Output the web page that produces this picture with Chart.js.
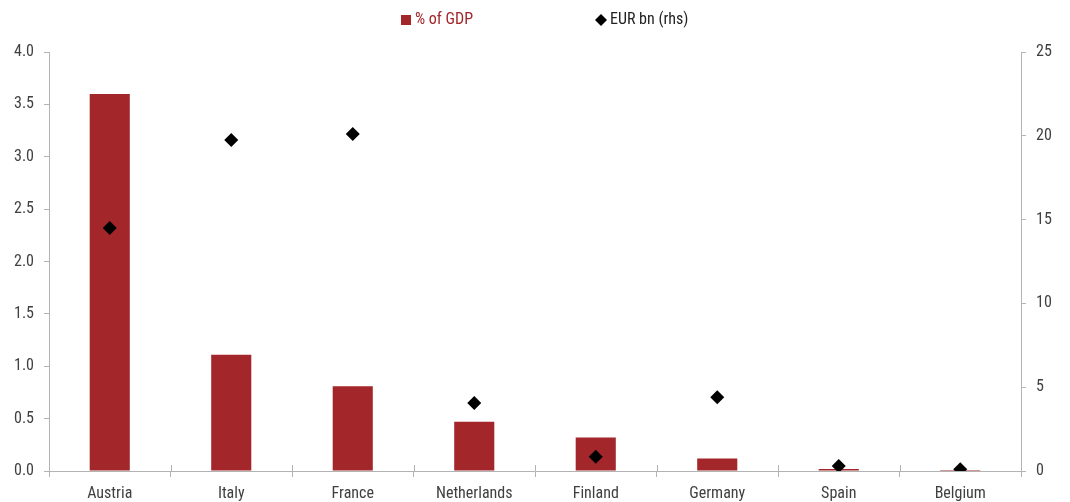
<!DOCTYPE html>
<html><head><meta charset="utf-8">
<script src="https://cdn.jsdelivr.net/npm/chart.js@4/dist/chart.umd.min.js"></script>
<style>html,body{margin:0;padding:0;background:#fff}#wrap{width:1070px;height:502px}</style>
</head><body><div id="wrap"><canvas id="c" width="1070" height="502"></canvas></div>
<script>
const categories = ['Austria','Italy','France','Netherlands','Finland','Germany','Spain','Belgium'];
const pctGDP = [3.60, 1.11, 0.81, 0.47, 0.32, 0.12, 0.02, 0.01];
const eurBn = [14.5, 19.75, 20.1, 4.05, 0.85, 4.4, 0.3, 0.1];
const leftTicks = [0, 0.5, 1.0, 1.5, 2.0, 2.5, 3.0, 3.5, 4.0];
const rightTicks = [0, 5, 10, 15, 20, 25];

const FONT = "'Roboto Condensed','Liberation Sans Narrow','DejaVu Sans Condensed',Roboto,sans-serif";
const RED = '#a3262a';
const AXIS = '#b3b3b3';
const TXT = '#404040';

const legendPlugin = {
  id: 'customLegend',
  afterDraw(chart) {
    const ctx = chart.ctx;
    const ds = chart.data.datasets;
    ctx.save();
    ctx.font = '16px ' + FONT;
    ctx.textBaseline = 'middle';
    ctx.textAlign = 'left';
    const y = 20;
    ctx.fillStyle = ds[0].backgroundColor;
    ctx.fillRect(401, y - 5, 10, 10);
    ctx.fillText(ds[0].label, 415, y);
    ctx.fillStyle = ds[1].backgroundColor;
    ctx.beginPath();
    ctx.moveTo(601, y - 6); ctx.lineTo(607, y); ctx.lineTo(601, y + 6); ctx.lineTo(595, y);
    ctx.closePath(); ctx.fill();
    ctx.fillStyle = '#222';
    ctx.fillText(ds[1].label, 610, y);
    ctx.restore();
  }
};

const xTickUp = {
  id: 'xTickUp',
  afterDatasetsDraw(chart) {
    const x = chart.scales.x, ctx = chart.ctx;
    const bottom = chart.chartArea.bottom;
    ctx.save();
    ctx.strokeStyle = AXIS; ctx.lineWidth = 1;
    for (let i = 0; i <= categories.length; i++) {
      const px = Math.round(x.left + (x.right - x.left) * i / categories.length) + 0.5;
      ctx.beginPath(); ctx.moveTo(px, bottom - 6); ctx.lineTo(px, bottom); ctx.stroke();
    }
    ctx.restore();
  }
};

new Chart(document.getElementById('c'), {
  data: {
    labels: categories,
    datasets: [
      { type: 'bar', label: '% of GDP', data: pctGDP, backgroundColor: RED, yAxisID: 'y',
        categoryPercentage: 1.0, barPercentage: 0.33, order: 2 },
      { type: 'line', label: 'EUR bn (rhs)', data: eurBn, backgroundColor: '#000', borderColor: '#000',
        showLine: false, pointStyle: 'rectRot', pointRadius: 7, pointHoverRadius: 7, pointBorderWidth: 0,
        yAxisID: 'y1', order: 1 }
    ]
  },
  options: {
    responsive: false,
    animation: false,
    events: [],
    layout: { padding: { top: 52, left: 0, right: 0, bottom: 0 } },
    plugins: { legend: { display: false }, tooltip: { enabled: false } },
    scales: {
      x: {
        offset: true,
        grid: { offset: true, drawOnChartArea: false, tickLength: 6, color: AXIS },
        border: { color: AXIS },
        ticks: { font: { family: FONT, size: 16 }, color: TXT, padding: 7, maxRotation: 0 },
        afterFit(s) { s.height = 31; }
      },
      y: {
        position: 'left', min: 0, max: 4,
        grid: { drawOnChartArea: false, tickLength: 5, color: AXIS },
        border: { color: AXIS },
        afterBuildTicks(s) { s.ticks = leftTicks.map(v => ({ value: v })); },
        ticks: { font: { family: FONT, size: 16 }, color: TXT, padding: 10,
          callback: v => Number(v).toFixed(1) },
        afterFit(s) { s.width = 49; }
      },
      y1: {
        position: 'right', min: 0, max: 25,
        grid: { drawOnChartArea: false, tickLength: 5, color: AXIS },
        border: { color: AXIS },
        afterBuildTicks(s) { s.ticks = rightTicks.map(v => ({ value: v })); },
        ticks: { font: { family: FONT, size: 16 }, color: TXT, padding: 10 },
        afterFit(s) { s.width = 49; }
      }
    }
  },
  plugins: [legendPlugin, xTickUp]
});
</script>
</body></html>
